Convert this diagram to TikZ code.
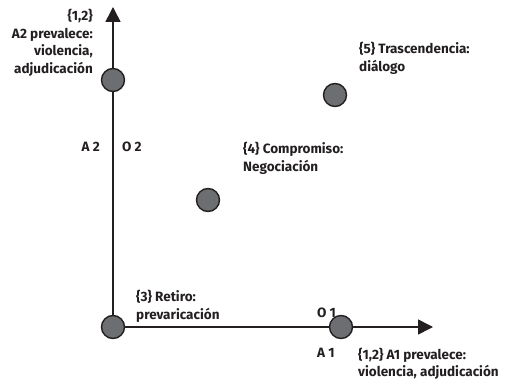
\documentclass[tikz,border=0pt]{standalone}
\usepackage{fontspec}
\setmainfont{Fira Sans}
\usepackage{tikz}
\usetikzlibrary{arrows.meta, positioning}
\definecolor{inkDark}{HTML}{231F20}
\definecolor{dotGray}{HTML}{6D6E71}

\tikzset{
  eje/.style={inkDark, line width=1.6pt, -{Triangle[length=15pt, width=15pt]}},
  punto/.style={circle, draw=inkDark, fill=dotGray, line width=1.4pt, minimum size=23pt, inner sep=0pt},
  etiqueta/.style={font=\bfseries\fontsize{13.5pt}{17.5pt}\selectfont, text=inkDark, inner sep=0pt, align=left},
}

\begin{document}
\begin{tikzpicture}[x=1pt, y=-1pt]
    \useasboundingbox (0,0) rectangle (505,379);

    % Ejes
    \coordinate (Ytip) at (113,7);
    \coordinate (Xtip) at (433,327);
    \coordinate (Orig) at (113,327);
    \draw[eje] (Orig) -- (Ytip);
    \draw[eje] (Orig) -- (Xtip);

    % Puntos
    \node[punto] (p3) at (Orig) {};
    \node[punto] (p1) at (341,327) {};
    \node[punto] (p2) at (113,80) {};
    \node[punto] (p4) at (208,200) {};
    \node[punto] (p5) at (335,95) {};

    % Etiquetas del eje vertical
    \node[etiqueta, align=right, anchor=north east] (lblA2) at (93,9) {\{1,2\}\\A2 prevalece:\\violencia,\\adjudicación};
    \node[etiqueta, anchor=base east] (lblAdos) at (100,152) {A 2};
    \node[etiqueta, anchor=base west] (lblOdos) at (122,152) {O 2};

    % Etiquetas de los puntos interiores
    \node[etiqueta, anchor=north west] (lblCinco) at (359,42) {\{5\} Trascendencia:\\diálogo};
    \node[etiqueta, anchor=north west] (lblCuatro) at (243,142) {\{4\} Compromiso:\\Negociación};
    \node[etiqueta, anchor=north west] (lblTres) at (136,290) {\{3\} Retiro:\\prevaricación};

    % Etiquetas del eje horizontal
    \node[etiqueta, anchor=base west] (lblOuno) at (317,317) {O 1};
    \node[etiqueta, anchor=base west] (lblAuno) at (317,357) {A 1};
    \node[etiqueta, anchor=north west] (lblA1) at (358,347.5) {\{1,2\} A1 prevalece:\\violencia, adjudicación};

\end{tikzpicture}
\end{document}
